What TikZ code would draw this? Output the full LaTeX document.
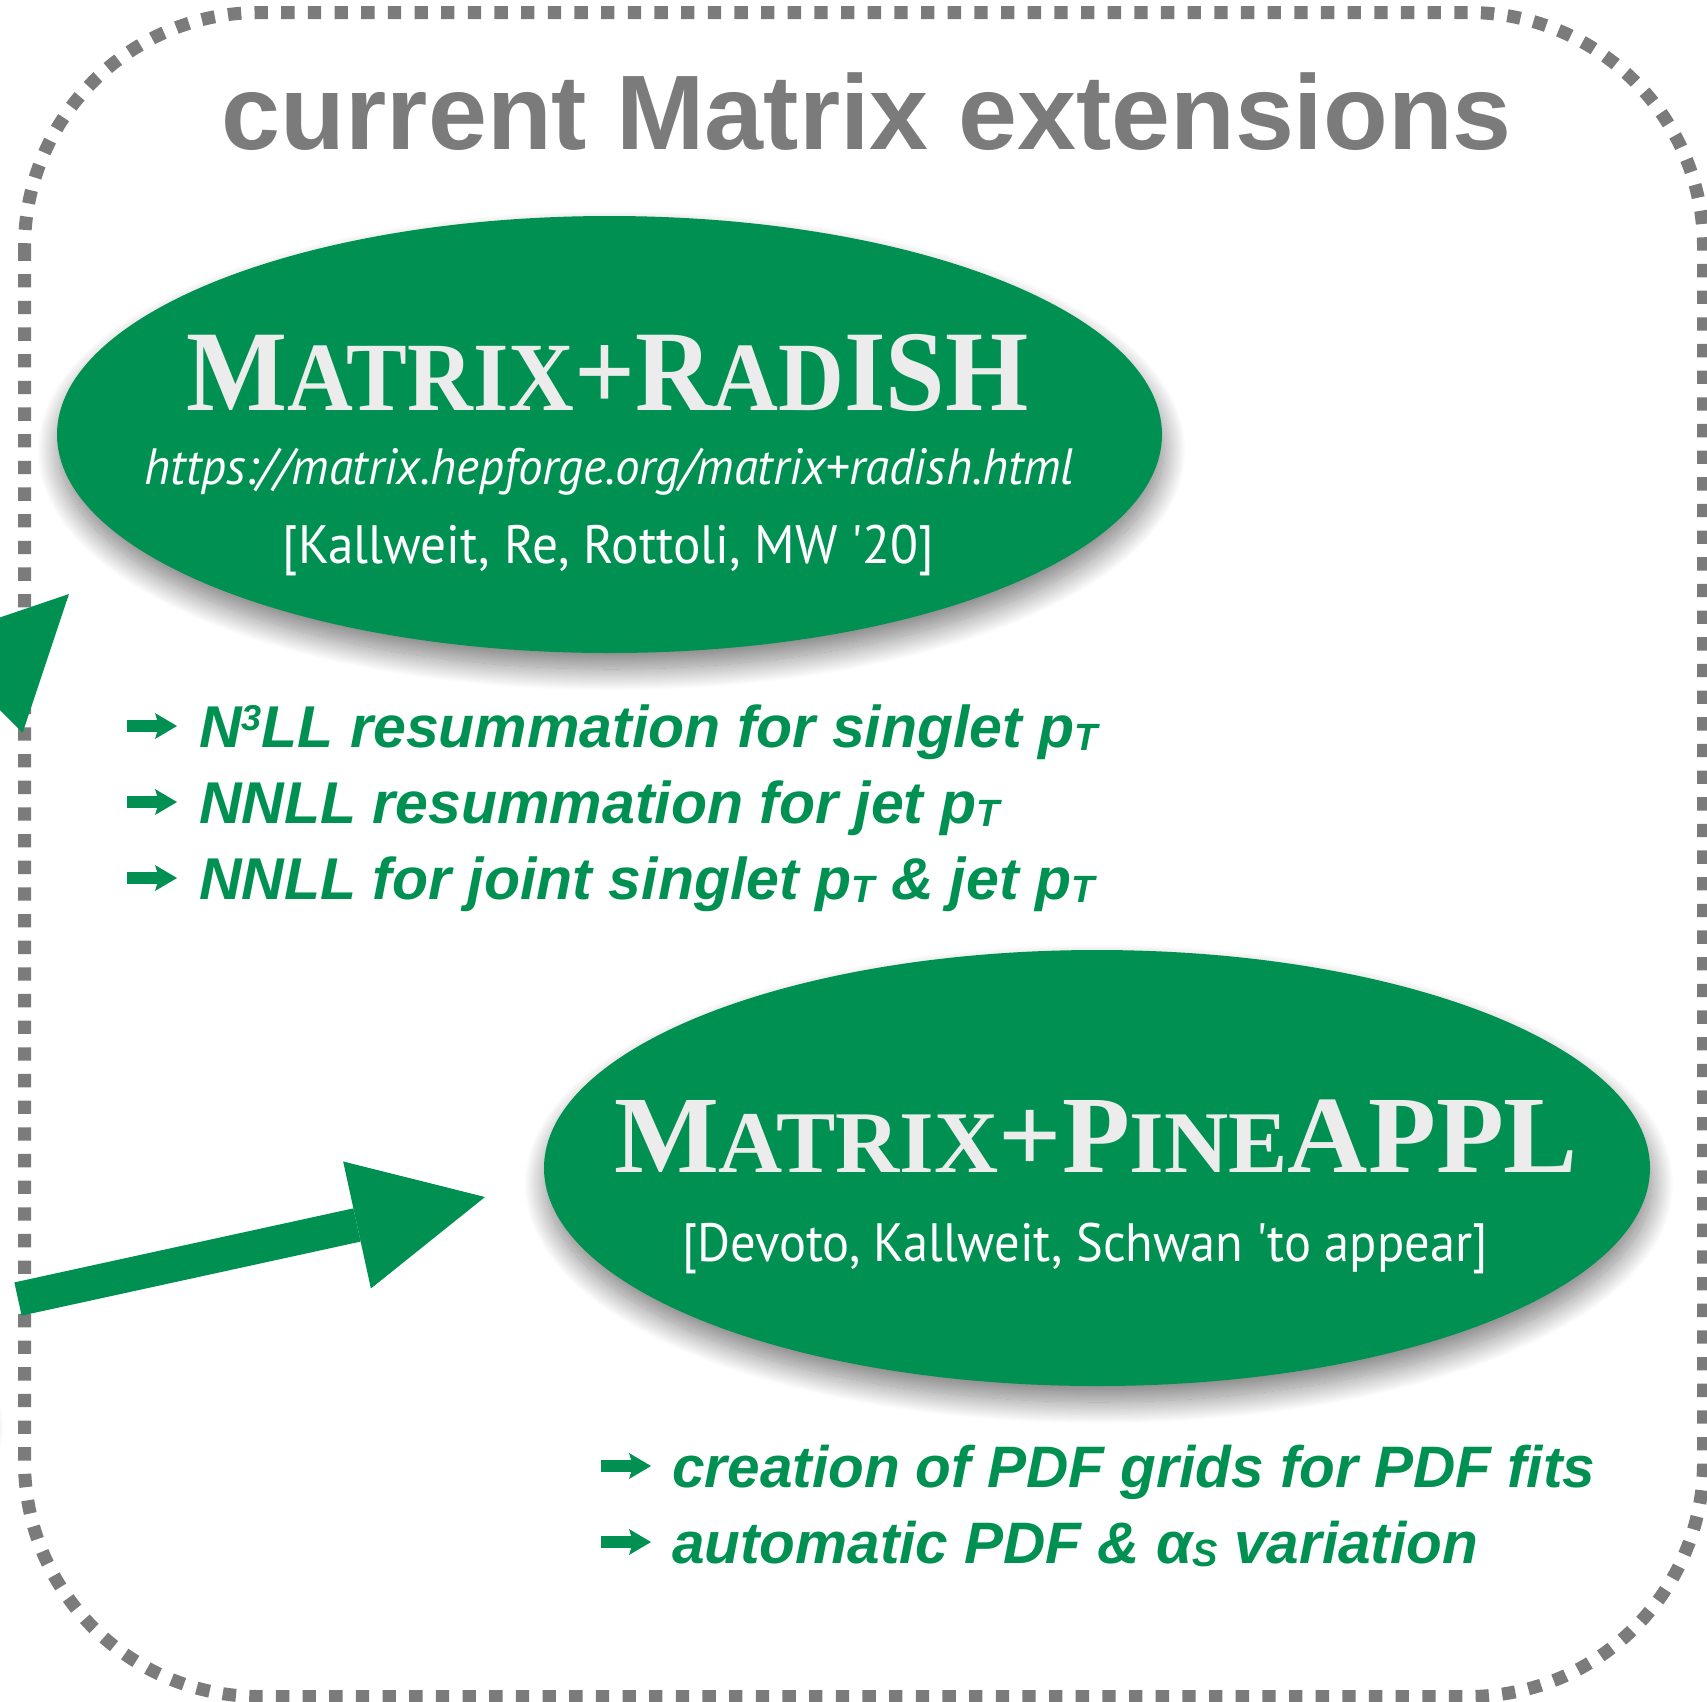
\documentclass[tikz,border=0pt]{standalone}
\usepackage{fontspec}
\setmainfont{Liberation Serif}
\newfontfamily\sansf{Liberation Sans}
\newfontfamily\gillf{PT Sans}
\usetikzlibrary{shapes.geometric,arrows.meta,shadows.blur}
\definecolor{mgreen}{RGB}{0,145,82}
\definecolor{fgray}{RGB}{123,123,123}
\definecolor{hwhite}{RGB}{236,236,236}
\newcommand\hsc[2]{{\fontsize{#1}{#1}\selectfont #2}}
\newcommand\subT[1]{\raisebox{-3pt}{\fontsize{38}{38}\selectfont #1}}
\tikzset{
  frame/.style={draw=fgray, line width=13pt, dash pattern=on 13.33pt off 13.33pt, rounded corners=235pt},
  bubble/.style={ellipse, fill=mgreen, inner sep=0pt, outer sep=0pt,
     blur shadow={shadow xshift=2pt, shadow yshift=-16pt, shadow blur radius=22pt, shadow blur steps=30, shadow opacity=50}},
  headtext/.style={anchor=base, text=hwhite, font=\bfseries},
  gilltext/.style={anchor=base, text=white},
  listtext/.style={anchor=base west, text=mgreen, inner sep=0pt},
  bullet/.style={draw=mgreen, line width=12pt, -{Stealth[length=22pt,width=26pt,inset=4pt,line width=0pt]}},
  bigarrow/.style={draw=mgreen, line width=34pt, -{Triangle[length=131pt,width=130pt,line width=0pt]}},
}
\begin{document}
\begin{tikzpicture}[x=1pt,y=-1pt]
\useasboundingbox (0,0) rectangle (1707,1701);
\clip (0,0) rectangle (1707,1701);

% off-picture Matrix bubble (only a faint edge of its shadow shows at the left)
\node[bubble, minimum width=840pt, minimum height=300pt] (matrix) at (-440,1410) {};

% frame
\draw[frame] (24.5,12.5) rectangle (1703.5,1696.5);

% title
\node[anchor=base, text=fgray, font=\sansf\bfseries\fontsize{106}{110}\selectfont] (title) at (867,149) {current Matrix extensions};

% ellipses
\node[bubble, minimum width=1105pt, minimum height=437pt] (radish) at (609.5,434.5) {};
\node[bubble, minimum width=1106pt, minimum height=436pt] (pineappl) at (1097,1168) {};

% ellipse texts
\node[headtext, font=\bfseries\fontsize{115}{115}\selectfont] (h1) at (607.5,410) {\scalebox{0.93}[1]{M\hsc{98}{ATRIX}+R\hsc{98}{AD}ISH}};
\node[gilltext, font=\gillf\itshape\fontsize{51}{51}\selectfont] (url) at (609.5,484) {\scalebox{0.96}[1]{https://matrix.hepforge.org/matrix+radish.html}};
\node[gilltext, font=\gillf\fontsize{54}{54}\selectfont] (ref1) at (608.5,563) {\scalebox{0.95}[1]{[Kallweit, Re, Rottoli, MW \textquotesingle20]}};

\node[headtext, font=\bfseries\fontsize{110}{110}\selectfont] (h2) at (1096,1172) {\scalebox{1.01}[1]{M\hsc{88}{ATRIX}+P\hsc{88}{INE}APPL}};
\node[gilltext, font=\gillf\fontsize{54}{54}\selectfont] (ref2) at (1085,1261) {\scalebox{0.935}[1]{[Devoto, Kallweit, Schwan \textquotesingle to appear]}};

% list 1
\begin{scope}[font=\sansf\bfseries\itshape\fontsize{59}{59}\selectfont]
\node[listtext] (l1) at (199,747) {N\raisebox{17pt}{\fontsize{36}{36}\selectfont 3}LL resummation for singlet p\subT{T}};
\node[listtext] (l2) at (199,823) {NNLL resummation for jet p\subT{T}};
\node[listtext] (l3) at (199,899) {NNLL for joint singlet p\subT{T} \& jet p\subT{T}};
\end{scope}
\coordinate (b1) at (127,726); \coordinate (b1e) at (177,726);
\coordinate (b2) at (127,802); \coordinate (b2e) at (177,802);
\coordinate (b3) at (127,878); \coordinate (b3e) at (177,878);
\draw[bullet] (b1) -- (b1e);
\draw[bullet] (b2) -- (b2e);
\draw[bullet] (b3) -- (b3e);

% list 2
\begin{scope}[font=\sansf\bfseries\itshape\fontsize{58.5}{58.5}\selectfont]
\node[listtext] (m1) at (672,1487) {creation of PDF grids for PDF fits};
\node[listtext] (m2) at (672,1563) {automatic PDF \& α\subT{S} variation};
\end{scope}
\coordinate (c1) at (601,1466); \coordinate (c1e) at (651,1466);
\coordinate (c2) at (601,1542); \coordinate (c2e) at (651,1542);
\draw[bullet] (c1) -- (c1e);
\draw[bullet] (c2) -- (c2e);

% big arrows
\coordinate (matrixA) at (-355,1020);
\coordinate (radishIn) at (69,594);
\draw[bigarrow] (matrixA) -- (radishIn);
\coordinate (matrixB) at (18,1299);
\coordinate (pineIn) at (485,1197);
\draw[bigarrow] (matrixB) -- (pineIn);
\end{tikzpicture}
\end{document}
